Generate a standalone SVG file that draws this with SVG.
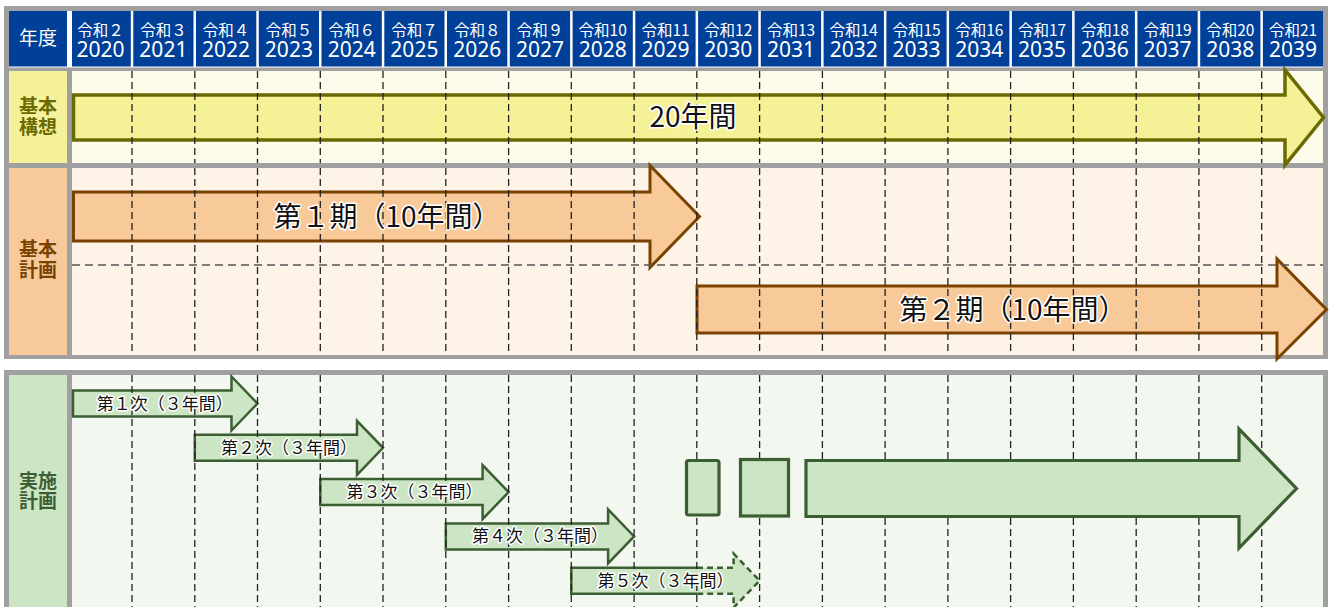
<svg xmlns="http://www.w3.org/2000/svg" width="1330" height="607" viewBox="0 0 1330 607">
<defs>
<style>
text{font-family:"Noto Sans CJK JP","Noto Sans",sans-serif;}
.hd1{font-size:15.5px;fill:#fff;text-anchor:middle;}
.hd2{font-size:21px;fill:#fff;text-anchor:middle;font-family:"Noto Sans","Noto Sans CJK JP",sans-serif;}
.lbl{font-size:19px;font-weight:700;text-anchor:middle;}
.big{font-size:28px;fill:#111;text-anchor:middle;stroke:#fff;stroke-width:3px;paint-order:stroke;stroke-linejoin:round;}
.sm{font-size:17px;fill:#111;text-anchor:middle;stroke:#fff;stroke-width:3px;paint-order:stroke;stroke-linejoin:round;}
.grid{fill:none;stroke:#222;stroke-width:1.3;stroke-dasharray:7 4;}
.hgrid{fill:none;stroke:#555;stroke-width:1.6;stroke-dasharray:8 5;}
.ya{fill:#f5f196;stroke:#6b6a00;stroke-width:3.5;stroke-linejoin:miter;}
.oa{fill:#f8c999;stroke:#7a4200;stroke-width:3;stroke-linejoin:miter;}
.ga{fill:#cce5c4;stroke:#3c5e33;stroke-width:2.5;stroke-linejoin:miter;}
.gb{fill:#cce5c4;stroke:#3c5e33;stroke-width:3.2;stroke-linejoin:miter;}
.sep{fill:#fff;}
</style>
</defs>

<!-- frames -->
<g id="frames">
<rect x="4" y="6" width="1324" height="353" fill="#a0a0a0"/>
<rect x="4" y="370" width="1324" height="240" fill="#a0a0a0"/>
<rect x="9" y="11" width="1314" height="56" fill="#004098"/>
<rect x="9" y="66.5" width="1314" height="1" fill="#fff"/>
<rect x="67" y="11" width="5" height="56" class="sep"/>
<g class="sep">
<rect x="130.8" y="11" width="2.5" height="56"/><rect x="193.5" y="11" width="2.5" height="56"/><rect x="256.3" y="11" width="2.5" height="56"/><rect x="319" y="11" width="2.5" height="56"/><rect x="381.8" y="11" width="2.5" height="56"/><rect x="444.5" y="11" width="2.5" height="56"/><rect x="507.3" y="11" width="2.5" height="56"/><rect x="570.1" y="11" width="2.5" height="56"/><rect x="632.8" y="11" width="2.5" height="56"/><rect x="695.6" y="11" width="2.5" height="56"/><rect x="758.3" y="11" width="2.5" height="56"/><rect x="821.1" y="11" width="2.5" height="56"/><rect x="883.9" y="11" width="2.5" height="56"/><rect x="946.6" y="11" width="2.5" height="56"/><rect x="1009.4" y="11" width="2.5" height="56"/><rect x="1072.1" y="11" width="2.5" height="56"/><rect x="1134.9" y="11" width="2.5" height="56"/><rect x="1197.7" y="11" width="2.5" height="56"/><rect x="1260.4" y="11" width="2.5" height="56"/>
</g>
<rect x="9" y="71" width="58" height="92" fill="#f5f09a"/>
<rect x="72" y="71" width="1251" height="92" fill="#fdfbea"/>
<rect x="9" y="168" width="58" height="187" fill="#f8c99a"/>
<rect x="72" y="168" width="1251" height="187" fill="#fdf3e7"/>
<rect x="9" y="375" width="58" height="235" fill="#cce5c4"/>
<rect x="72" y="375" width="1251" height="235" fill="#f2f7f0"/>
</g>

<!-- header -->
<g id="header">
<text x="38" y="45" style="font-size:19px;fill:#fff;text-anchor:middle">年度</text>
<text class="hd1" x="100.6" y="36">令和２</text><text class="hd2" x="100.6" y="57">2020</text>
<text class="hd1" x="163.4" y="36">令和３</text><text class="hd2" x="163.4" y="57">2021</text>
<text class="hd1" x="226.1" y="36">令和４</text><text class="hd2" x="226.1" y="57">2022</text>
<text class="hd1" x="288.9" y="36">令和５</text><text class="hd2" x="288.9" y="57">2023</text>
<text class="hd1" x="351.7" y="36">令和６</text><text class="hd2" x="351.7" y="57">2024</text>
<text class="hd1" x="414.4" y="36">令和７</text><text class="hd2" x="414.4" y="57">2025</text>
<text class="hd1" x="477.2" y="36">令和８</text><text class="hd2" x="477.2" y="57">2026</text>
<text class="hd1" x="540.0" y="36">令和９</text><text class="hd2" x="540.0" y="57">2027</text>
<text class="hd1" x="602.7" y="36">令和10</text><text class="hd2" x="602.7" y="57">2028</text>
<text class="hd1" x="665.5" y="36">令和11</text><text class="hd2" x="665.5" y="57">2029</text>
<text class="hd1" x="728.2" y="36">令和12</text><text class="hd2" x="728.2" y="57">2030</text>
<text class="hd1" x="791.0" y="36">令和13</text><text class="hd2" x="791.0" y="57">2031</text>
<text class="hd1" x="853.7" y="36">令和14</text><text class="hd2" x="853.7" y="57">2032</text>
<text class="hd1" x="916.5" y="36">令和15</text><text class="hd2" x="916.5" y="57">2033</text>
<text class="hd1" x="979.3" y="36">令和16</text><text class="hd2" x="979.3" y="57">2034</text>
<text class="hd1" x="1042.0" y="36">令和17</text><text class="hd2" x="1042.0" y="57">2035</text>
<text class="hd1" x="1104.8" y="36">令和18</text><text class="hd2" x="1104.8" y="57">2036</text>
<text class="hd1" x="1167.5" y="36">令和19</text><text class="hd2" x="1167.5" y="57">2037</text>
<text class="hd1" x="1230.3" y="36">令和20</text><text class="hd2" x="1230.3" y="57">2038</text>
<text class="hd1" x="1293.0" y="36">令和21</text><text class="hd2" x="1293.0" y="57">2039</text>
</g>

<!-- row labels -->
<g id="label-kihonkoso"><text class="lbl" x="38" y="113" fill="#6b6a00">基本</text><text class="lbl" x="38" y="134" fill="#6b6a00">構想</text></g>
<g id="label-kihonkeikaku"><text class="lbl" x="38" y="256" fill="#7a4200">基本</text><text class="lbl" x="38" y="277" fill="#7a4200">計画</text></g>
<g id="label-jisshikeikaku"><text class="lbl" x="38" y="488" fill="#3c5e33">実施</text><text class="lbl" x="38" y="508" fill="#3c5e33">計画</text></g>

<!-- bars (arrows) under grid -->
<g id="connectors">
<g id="arrow-koso"><polygon class="ya" points="73.5,95 1285,95 1285,70 1323.5,117.5 1285,165 1285,140 73.5,140"/></g>
<g id="arrow-ki1"><polygon class="oa" points="73.5,192 650,192 650,165.5 699.5,216.5 650,267.5 650,241 73.5,241"/></g>
<g id="arrow-ki2"><polygon class="oa" points="697,286 1277,286 1277,259 1326.5,309.5 1277,359 1277,333 697,333"/></g>
<g id="arrow-ji1"><polygon class="ga" points="73,390.5 231.5,390.5 231.5,376.5 257.5,403.5 231.5,430.5 231.5,416.5 73,416.5"/></g>
<g id="arrow-ji2"><polygon class="ga" points="194.8,434.8 357,434.8 357,420.8 383,447.8 357,474.8 357,460.8 194.8,460.8"/></g>
<g id="arrow-ji3"><polygon class="ga" points="320.3,479.1 482.6,479.1 482.6,465.1 508.6,492.1 482.6,519.1 482.6,505.1 320.3,505.1"/></g>
<g id="arrow-ji4"><polygon class="ga" points="445.8,523.4 608.1,523.4 608.1,509.4 634.1,536.4 608.1,563.4 608.1,549.4 445.8,549.4"/></g>
<g id="arrow-ji5">
<polygon points="571.3,567.7 733.6,567.7 733.6,553.7 759.6,580.7 733.6,607.7 733.6,593.7 571.3,593.7" fill="#cce5c4"/>
<path d="M697,567.7 H571.3 V593.7 H697" fill="none" stroke="#3c5e33" stroke-width="2.5"/>
<path d="M697,567.7 H733.6 V553.7 L759.6,580.7 L733.6,607.7 V593.7 H697" fill="none" stroke="#3c5e33" stroke-width="2.5" stroke-dasharray="6 4"/>
</g>
</g>

<!-- grid -->
<g id="grid">
<path class="grid" d="M132,71V163M194.8,71V163M257.5,71V163M320.3,71V163M383,71V163M445.8,71V163M508.6,71V163M571.3,71V163M634.1,71V163M696.8,71V163M759.6,71V163M822.4,71V163M885.1,71V163M947.9,71V163M1010.6,71V163M1073.4,71V163M1136.2,71V163M1198.9,71V163M1261.7,71V163"/>
<path class="grid" d="M132,168V355M194.8,168V355M257.5,168V355M320.3,168V355M383,168V355M445.8,168V355M508.6,168V355M571.3,168V355M634.1,168V355M696.8,168V355M759.6,168V355M822.4,168V355M885.1,168V355M947.9,168V355M1010.6,168V355M1073.4,168V355M1136.2,168V355M1198.9,168V355M1261.7,168V355"/>
<path class="grid" d="M132,375V607M194.8,375V607M257.5,375V607M320.3,375V607M383,375V607M445.8,375V607M508.6,375V607M571.3,375V607M634.1,375V607M696.8,375V607M759.6,375V607M822.4,375V607M885.1,375V607M947.9,375V607M1010.6,375V607M1073.4,375V607M1136.2,375V607M1198.9,375V607M1261.7,375V607"/>
<path class="hgrid" d="M72,265H1323"/>
</g>

<!-- opaque green shapes over grid -->
<g id="box-1"><rect class="gb" x="686.5" y="460.5" width="32.5" height="54.5" rx="2"/></g>
<g id="box-2"><rect class="gb" x="740.5" y="459.5" width="48" height="56.5"/></g>
<g id="arrow-future"><polygon class="gb" points="806,460.5 1239,460.5 1239,429 1296.5,488.5 1239,548 1239,516.5 806,516.5"/></g>

<!-- labels -->
<g id="texts">
<text class="big" x="693" y="127">20年間</text>
<text class="big" x="387" y="227">第１期（10年間）</text>
<text class="big" x="1013" y="320">第２期（10年間）</text>
<text class="sm" x="164.8" y="409.5">第１次（３年間）</text>
<text class="sm" x="288.9" y="453.8">第２次（３年間）</text>
<text class="sm" x="414.4" y="498.1">第３次（３年間）</text>
<text class="sm" x="540" y="542.4">第４次（３年間）</text>
<text class="sm" x="665.5" y="586.7">第５次（３年間）</text>
</g>
</svg>
